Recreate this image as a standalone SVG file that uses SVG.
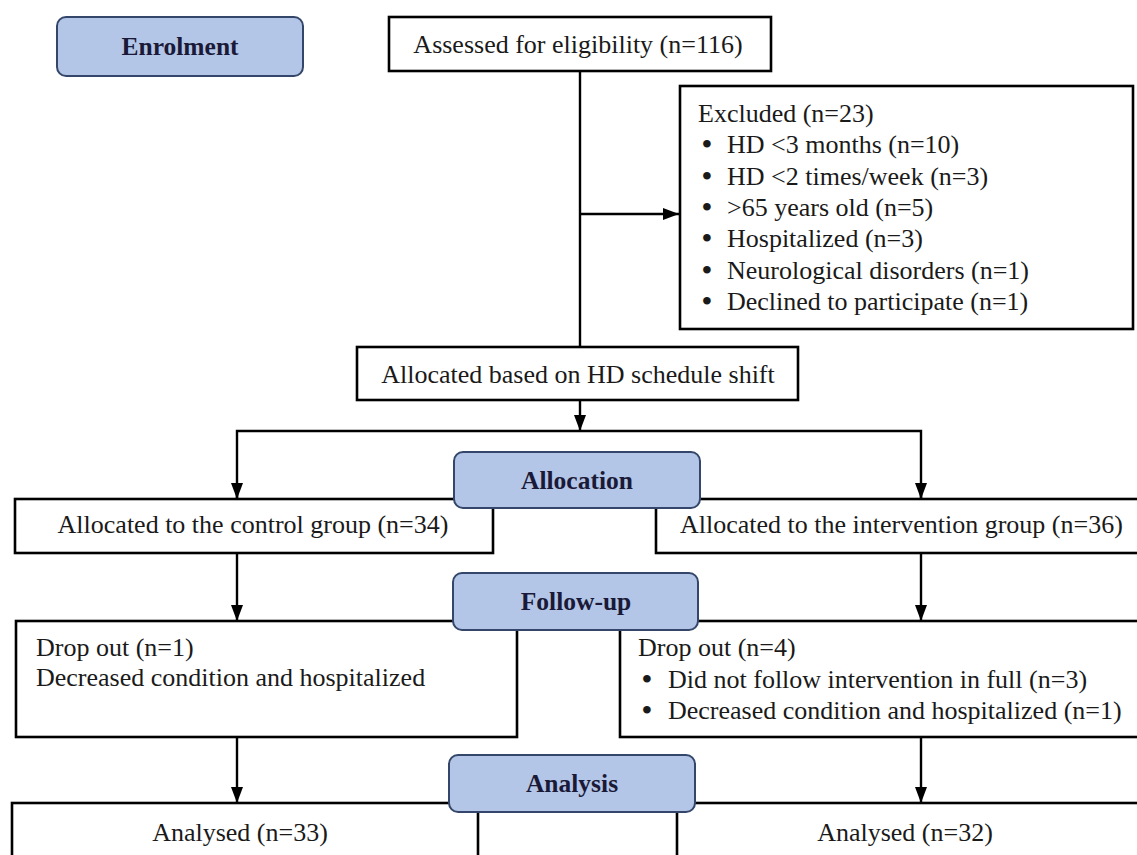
<svg xmlns="http://www.w3.org/2000/svg" width="1137" height="855" viewBox="0 0 1137 855">
<style>
.box{fill:#fff;stroke:#000;stroke-width:2.6}
.stage{fill:#b4c6e7;stroke:#34476a;stroke-width:2}
.t{font-family:"Liberation Serif","Times New Roman",serif;font-size:26px;fill:#1a1a1a}
.b{font-weight:bold;font-size:28px}
.h{font-family:"Liberation Serif","Times New Roman",serif;font-size:25.5px;font-weight:bold;fill:#1a1a38;text-anchor:middle}
.c{text-anchor:middle}
.ln{fill:none;stroke:#000;stroke-width:2.4}
</style>
<defs>
<marker id="ah" viewBox="0 0 16 12" refX="16" refY="6" markerWidth="16" markerHeight="12" markerUnits="userSpaceOnUse" orient="auto">
<path d="M0,0 L16,6 L0,12 Z" fill="#000"/>
</marker>
</defs>
<rect width="1137" height="855" fill="#fff"/>

<g id="connectors">
<line class="ln" x1="580" y1="71" x2="580" y2="347"/>
<line class="ln" x1="580" y1="214" x2="679" y2="214" marker-end="url(#ah)"/>
<line class="ln" x1="580" y1="400" x2="580" y2="431" marker-end="url(#ah)"/>
<polyline class="ln" points="237,499 237,431 921,431 921,499" stroke-width="2"/>
<line class="ln" x1="237" y1="484" x2="237" y2="499" marker-end="url(#ah)"/>
<line class="ln" x1="921" y1="484" x2="921" y2="499" marker-end="url(#ah)"/>
<line class="ln" x1="237" y1="553" x2="237" y2="621" marker-end="url(#ah)"/>
<line class="ln" x1="921" y1="553" x2="921" y2="621" marker-end="url(#ah)"/>
<line class="ln" x1="237" y1="737" x2="237" y2="803" marker-end="url(#ah)"/>
<line class="ln" x1="921" y1="737" x2="921" y2="803" marker-end="url(#ah)"/>
</g>

<g id="enrolment">
<rect class="stage" x="57" y="17" width="246" height="59" rx="9"/>
<text class="h" x="180" y="55">Enrolment</text>
</g>

<g id="assessed">
<rect class="box" x="389" y="17" width="382" height="54"/>
<text class="t c" x="578" y="53">Assessed for eligibility (n=116)</text>
</g>

<g id="excluded">
<rect class="box" x="680" y="86" width="453" height="243"/>
<text class="t" x="698" y="122">Excluded (n=23)</text>
<text class="t b" x="702" y="153">•</text><text class="t" x="727" y="153">HD &lt;3 months (n=10)</text>
<text class="t b" x="702" y="185">•</text><text class="t" x="727" y="185">HD &lt;2 times/week (n=3)</text>
<text class="t b" x="702" y="216">•</text><text class="t" x="727" y="216">&gt;65 years old (n=5)</text>
<text class="t b" x="702" y="247">•</text><text class="t" x="727" y="247">Hospitalized (n=3)</text>
<text class="t b" x="702" y="279">•</text><text class="t" x="727" y="279">Neurological disorders (n=1)</text>
<text class="t b" x="702" y="310">•</text><text class="t" x="727" y="310">Declined to participate (n=1)</text>
</g>

<g id="allocated-shift">
<rect class="box" x="357" y="347" width="441" height="53"/>
<text class="t c" x="578" y="383">Allocated based on HD schedule shift</text>
</g>

<g id="control">
<rect class="box" x="15" y="499" width="478" height="54"/>
<text class="t c" x="253" y="533">Allocated to the control group (n=34)</text>
</g>

<g id="intervention">
<rect class="box" x="656" y="499" width="490" height="54"/>
<text class="t" x="680" y="533">Allocated to the intervention group (n=36)</text>
</g>

<g id="allocation">
<rect class="stage" x="454" y="452" width="246" height="56" rx="9"/>
<text class="h" x="577" y="489">Allocation</text>
</g>

<g id="dropout-control">
<rect class="box" x="16" y="621" width="501" height="116"/>
<text class="t" x="36" y="656">Drop out (n=1)</text>
<text class="t" x="36" y="686">Decreased condition and hospitalized</text>
</g>

<g id="dropout-intervention">
<rect class="box" x="620" y="621" width="526" height="116"/>
<text class="t" x="638" y="656">Drop out (n=4)</text>
<text class="t b" x="642" y="688">•</text><text class="t" x="668" y="688">Did not follow intervention in full (n=3)</text>
<text class="t b" x="642" y="719">•</text><text class="t" x="668" y="719">Decreased condition and hospitalized (n=1)</text>
</g>

<g id="followup">
<rect class="stage" x="453" y="573" width="245" height="57" rx="9"/>
<text class="h" x="576" y="610">Follow-up</text>
</g>

<g id="analysed-control">
<rect class="box" x="12" y="803" width="466" height="70"/>
<text class="t c" x="240" y="841">Analysed (n=33)</text>
</g>

<g id="analysed-intervention">
<rect class="box" x="677" y="803" width="470" height="70"/>
<text class="t c" x="905" y="841">Analysed (n=32)</text>
</g>

<g id="analysis">
<rect class="stage" x="449" y="755" width="246" height="57" rx="9"/>
<text class="h" x="572" y="792">Analysis</text>
</g>
</svg>
